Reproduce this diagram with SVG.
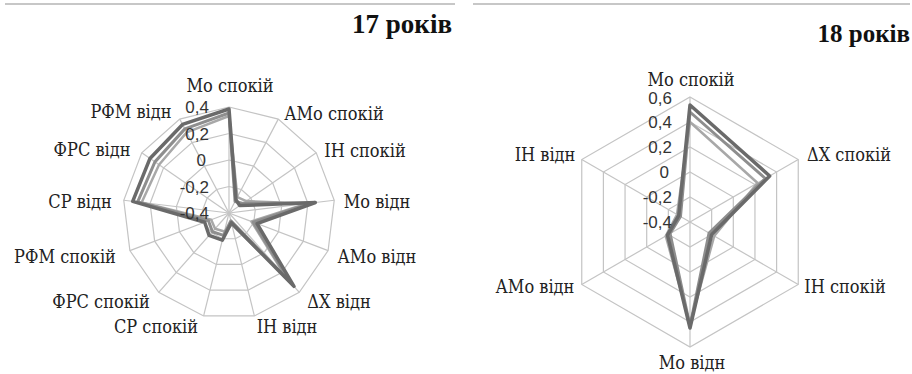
<svg xmlns="http://www.w3.org/2000/svg" width="912" height="374" viewBox="0 0 912 374">
<style>
.bg{fill:#ffffff}
.rule{stroke:#b4b4b4;stroke-width:1.5}
.grid{fill:none;stroke:#c4c4c4;stroke-width:1.2;vector-effect:non-scaling-stroke}
.spoke{stroke:#c4c4c4;stroke-width:1.2}
.title{font-weight:bold;fill:#111}
.lab{fill:#222;text-anchor:middle;font-family:"DejaVu Serif Condensed","DejaVu Serif",serif;font-stretch:condensed;font-size:18px}
.num{fill:#333;text-anchor:end}
.sa{fill:none;stroke:#6a6a6a;stroke-width:3.5;stroke-linejoin:round}
.sb{fill:none;stroke:#8e8e8e;stroke-width:3;stroke-linejoin:round}
.sc{fill:none;stroke:#a8a8a8;stroke-width:2.5;stroke-linejoin:round}
</style>
<defs>
<polygon id="p13" class="grid" points="0,-100 46.47,-88.55 82.30,-56.81 99.27,-12.05 93.50,35.46 66.31,74.85 23.93,97.09 -23.93,97.09 -66.31,74.85 -93.50,35.46 -99.27,-12.05 -82.30,-56.81 -46.47,-88.55"/>
<polygon id="p6" class="grid" points="0,-100 86.60,-50 86.60,50 0,100 -86.60,50 -86.60,-50"/>
</defs>
<rect class="bg" x="0" y="0" width="912" height="374"/>

<g id="chart17">
<line class="rule" x1="5" y1="4" x2="455" y2="4"/>
<text class="title" x="452" y="33" font-family="'Liberation Serif', serif" font-size="27" text-anchor="end">17 років</text>
<g id="grid17">
<use href="#p13" transform="translate(229,213) scale(0.265)"/>
<use href="#p13" transform="translate(229,213) scale(0.53)"/>
<use href="#p13" transform="translate(229,213) scale(0.795)"/>
<use href="#p13" transform="translate(229,213) scale(1.06)"/>
<g transform="translate(229,213)">
<line class="spoke" x1="0" y1="0" x2="0" y2="-106"/>
<line class="spoke" x1="0" y1="0" x2="0" y2="-106" transform="rotate(27.692)"/>
<line class="spoke" x1="0" y1="0" x2="0" y2="-106" transform="rotate(55.385)"/>
<line class="spoke" x1="0" y1="0" x2="0" y2="-106" transform="rotate(83.077)"/>
<line class="spoke" x1="0" y1="0" x2="0" y2="-106" transform="rotate(110.769)"/>
<line class="spoke" x1="0" y1="0" x2="0" y2="-106" transform="rotate(138.462)"/>
<line class="spoke" x1="0" y1="0" x2="0" y2="-106" transform="rotate(166.154)"/>
<line class="spoke" x1="0" y1="0" x2="0" y2="-106" transform="rotate(193.846)"/>
<line class="spoke" x1="0" y1="0" x2="0" y2="-106" transform="rotate(221.538)"/>
<line class="spoke" x1="0" y1="0" x2="0" y2="-106" transform="rotate(249.231)"/>
<line class="spoke" x1="0" y1="0" x2="0" y2="-106" transform="rotate(276.923)"/>
<line class="spoke" x1="0" y1="0" x2="0" y2="-106" transform="rotate(304.615)"/>
<line class="spoke" x1="0" y1="0" x2="0" y2="-106" transform="rotate(332.308)"/>
</g>
</g>
<g id="series17">
<polygon class="sc" points="229,116 237.36,197.06 246.28,201.07 306.43,203.60 251.44,221.51 286.03,277.37 231.87,224.65 224.45,231.45 215.07,228.72 211.24,219.74 141.64,202.40 159.04,164.71 186.71,132.42"/>
<polygon class="sb" points="229,113 235.04,201.49 242.99,203.34 310.40,203.12 253.31,222.22 290.01,281.86 230.91,220.77 223.50,235.33 212.42,231.71 208.43,220.80 137.67,201.91 154.93,161.87 184.85,128.88"/>
<polygon class="sa" points="229,109 235.97,199.72 239.70,205.61 315.36,202.52 257.05,223.64 293.98,286.35 231.39,222.71 222.30,240.19 209.11,235.46 204.69,222.22 132.71,201.31 149.99,158.46 182.53,124.45"/>
</g>
<g id="ticks17" font-family="'Liberation Sans', Arial, sans-serif" font-size="17">
<text class="num" x="209" y="113">0,4</text>
<text class="num" x="209" y="139.5">0,2</text>
<text class="num" x="206" y="166">0</text>
<text class="num" x="209" y="192.5">-0,2</text>
<text class="num" x="209" y="219">-0,4</text>
</g>
<g id="labels17">
<text class="lab" x="230" y="92">Мо спокій</text>
<text class="lab" x="334" y="120">АМо спокій</text>
<text class="lab" x="365" y="157">ІН спокій</text>
<text class="lab" x="377" y="208">Мо відн</text>
<text class="lab" x="377" y="263">АМо відн</text>
<text class="lab" x="339" y="308">ΔX відн</text>
<text class="lab" x="287" y="333">ІН відн</text>
<text class="lab" x="156" y="333">СР спокій</text>
<text class="lab" x="101" y="308">ФРС спокій</text>
<text class="lab" x="65" y="263">РФМ спокій</text>
<text class="lab" x="80" y="208">СР відн</text>
<text class="lab" x="92" y="156">ФРС відн</text>
<text class="lab" x="131" y="118">РФМ відн</text>
</g>
</g>

<g id="chart18">
<line class="rule" x1="473" y1="4" x2="910" y2="4"/>
<text class="title" x="910" y="42" font-family="'Liberation Serif', serif" font-size="25" text-anchor="end">18 років</text>
<g id="grid18">
<use href="#p6" transform="translate(690,222) scale(0.25)"/>
<use href="#p6" transform="translate(690,222) scale(0.5)"/>
<use href="#p6" transform="translate(690,222) scale(0.75)"/>
<use href="#p6" transform="translate(690,222) scale(1)"/>
<use href="#p6" transform="translate(690,222) scale(1.25)"/>
<line class="spoke" x1="690" y1="222" x2="690" y2="97"/>
<line class="spoke" x1="690" y1="222" x2="798.25" y2="159.5"/>
<line class="spoke" x1="690" y1="222" x2="798.25" y2="284.5"/>
<line class="spoke" x1="690" y1="222" x2="690" y2="347"/>
<line class="spoke" x1="690" y1="222" x2="581.75" y2="284.5"/>
<line class="spoke" x1="690" y1="222" x2="581.75" y2="159.5"/>
</g>
<g id="series18">
<polygon class="sc" points="690,122 757.55,183 714.25,236 690,324 665.75,236 677.01,214.5"/>
<polygon class="sb" points="690,112 765.34,178.5 709.05,233 690,326 670.08,233.5 680.47,216.5"/>
<polygon class="sa" points="690,105 769.67,176 711.65,234.5 690,328 667.48,235 678.74,215.5"/>
</g>
<g id="ticks18" font-family="'Liberation Sans', Arial, sans-serif" font-size="17">
<text class="num" x="672" y="104">0,6</text>
<text class="num" x="672" y="128">0,4</text>
<text class="num" x="672" y="153">0,2</text>
<text class="num" x="669" y="178">0</text>
<text class="num" x="672" y="203">-0,2</text>
<text class="num" x="672" y="228">-0,4</text>
</g>
<g id="labels18">
<text class="lab" x="691" y="86">Мо спокій</text>
<text class="lab" x="849" y="161">ΔX спокій</text>
<text class="lab" x="545" y="161">ІН відн</text>
<text class="lab" x="535" y="293">АМо відн</text>
<text class="lab" x="845" y="293">ІН спокій</text>
<text class="lab" x="692" y="369">Мо відн</text>
</g>
</g>
</svg>
